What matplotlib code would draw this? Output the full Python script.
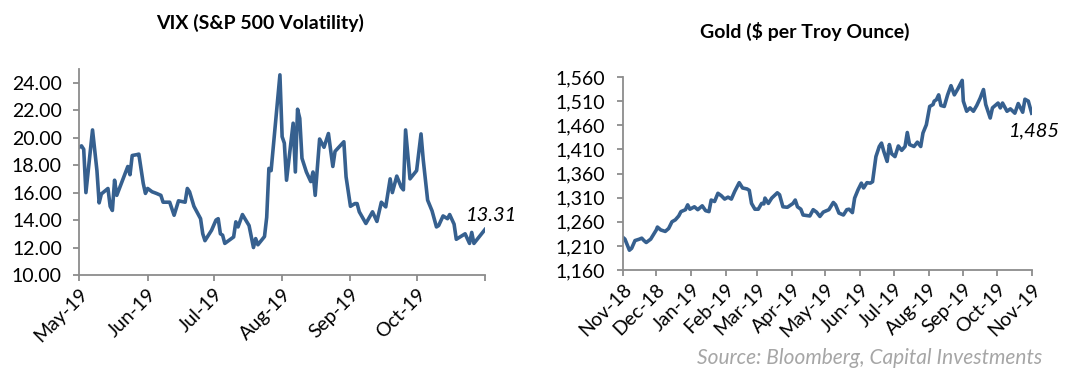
import numpy as np
import pandas as pd
import matplotlib
matplotlib.use("Agg")
import matplotlib.pyplot as plt
import matplotlib.dates as mdates
from matplotlib.ticker import FuncFormatter

plt.rcParams['font.family'] = ['Lato', 'DejaVu Sans']

# VIX close, May - Oct 2019
vix_dates = [
    "2019-05-01", "2019-05-02", "2019-05-03", "2019-05-04", "2019-05-07", "2019-05-09",
    "2019-05-10", "2019-05-11", "2019-05-14", "2019-05-15", "2019-05-16", "2019-05-17",
    "2019-05-18", "2019-05-23", "2019-05-24", "2019-05-25", "2019-05-27", "2019-05-28",
    "2019-05-30", "2019-05-31", "2019-06-01", "2019-06-03", "2019-06-05", "2019-06-07",
    "2019-06-08", "2019-06-11", "2019-06-13", "2019-06-15", "2019-06-18", "2019-06-19",
    "2019-06-20", "2019-06-22", "2019-06-25", "2019-06-26", "2019-06-27", "2019-06-30",
    "2019-07-02", "2019-07-03", "2019-07-04", "2019-07-05", "2019-07-06", "2019-07-10",
    "2019-07-11", "2019-07-12", "2019-07-14", "2019-07-17", "2019-07-19", "2019-07-20",
    "2019-07-21", "2019-07-24", "2019-07-25", "2019-07-26", "2019-07-27", "2019-07-31",
    "2019-08-01", "2019-08-02", "2019-08-03", "2019-08-06", "2019-08-07", "2019-08-08",
    "2019-08-09", "2019-08-10", "2019-08-12", "2019-08-14", "2019-08-15", "2019-08-16",
    "2019-08-18", "2019-08-20", "2019-08-22", "2019-08-24", "2019-08-25", "2019-08-29",
    "2019-08-30", "2019-09-01", "2019-09-03", "2019-09-04", "2019-09-05", "2019-09-08",
    "2019-09-11", "2019-09-13", "2019-09-15", "2019-09-17", "2019-09-19", "2019-09-20",
    "2019-09-22", "2019-09-24", "2019-09-25", "2019-09-26", "2019-09-28", "2019-10-01",
    "2019-10-03", "2019-10-04", "2019-10-06", "2019-10-08", "2019-10-10", "2019-10-11",
    "2019-10-13", "2019-10-15", "2019-10-16", "2019-10-18", "2019-10-19", "2019-10-23",
    "2019-10-25", "2019-10-26", "2019-10-27", "2019-11-01",
]
vix_values = [
    19.30, 19.40, 19.15, 16.00, 20.56, 17.60,
    15.25, 15.90, 16.30, 15.00, 14.70, 16.90,
    15.80, 17.90, 17.30, 18.70, 18.76, 18.80,
    16.67, 15.94, 16.30, 16.06, 15.94, 15.80,
    15.30, 15.30, 14.35, 15.40, 15.30, 16.30,
    16.06, 15.00, 14.10, 13.00, 12.50, 13.26,
    14.00, 14.10, 13.00, 12.90, 12.30, 12.77,
    13.87, 13.50, 14.40, 13.60, 12.00, 12.65,
    12.20, 12.80, 14.20, 17.76, 17.60, 24.57,
    20.07, 19.60, 16.90, 21.05, 17.50, 22.07,
    21.40, 18.50, 17.50, 16.80, 17.50, 15.80,
    19.90, 19.30, 20.30, 17.90, 19.00, 19.70,
    17.15, 15.00, 15.20, 15.20, 14.60, 13.75,
    14.60, 13.90, 15.30, 14.96, 17.00, 16.00,
    17.20, 16.40, 16.20, 20.56, 17.00, 17.60,
    20.27, 18.40, 15.45, 14.67, 13.50, 13.60,
    14.30, 14.10, 14.40, 13.70, 12.60, 13.00,
    12.30, 13.10, 12.30, 13.31,
]

# Gold spot, Nov 2018 - Nov 2019
gold_dates = [
    "2018-11-01", "2018-11-03", "2018-11-07", "2018-11-09", "2018-11-12", "2018-11-16",
    "2018-11-18", "2018-11-20", "2018-11-22", "2018-11-26", "2018-12-01", "2018-12-02",
    "2018-12-05", "2018-12-09", "2018-12-12", "2018-12-15", "2018-12-18", "2018-12-21",
    "2018-12-23", "2018-12-27", "2018-12-29", "2018-12-31", "2019-01-04", "2019-01-07",
    "2019-01-11", "2019-01-14", "2019-01-17", "2019-01-19", "2019-01-22", "2019-01-25",
    "2019-01-28", "2019-01-31", "2019-02-03", "2019-02-06", "2019-02-09", "2019-02-13",
    "2019-02-16", "2019-02-20", "2019-02-22", "2019-02-24", "2019-02-27", "2019-03-02",
    "2019-03-05", "2019-03-07", "2019-03-08", "2019-03-11", "2019-03-14", "2019-03-19",
    "2019-03-21", "2019-03-24", "2019-03-28", "2019-04-02", "2019-04-04", "2019-04-06",
    "2019-04-09", "2019-04-11", "2019-04-17", "2019-04-20", "2019-04-23", "2019-04-26",
    "2019-04-29", "2019-05-04", "2019-05-08", "2019-05-10", "2019-05-13", "2019-05-17",
    "2019-05-20", "2019-05-22", "2019-05-25", "2019-05-27", "2019-05-30", "2019-06-02",
    "2019-06-04", "2019-06-07", "2019-06-10", "2019-06-12", "2019-06-15", "2019-06-18",
    "2019-06-20", "2019-06-22", "2019-06-25", "2019-06-27", "2019-06-29", "2019-07-02",
    "2019-07-05", "2019-07-08", "2019-07-11", "2019-07-13", "2019-07-15", "2019-07-19",
    "2019-07-22", "2019-07-25", "2019-07-27", "2019-07-30", "2019-08-02", "2019-08-05",
    "2019-08-06", "2019-08-08", "2019-08-10", "2019-08-12", "2019-08-15", "2019-08-18",
    "2019-08-21", "2019-08-24", "2019-08-27", "2019-08-29", "2019-08-31", "2019-09-01",
    "2019-09-04", "2019-09-07", "2019-09-10", "2019-09-13", "2019-09-16", "2019-09-19",
    "2019-09-21", "2019-09-25", "2019-09-27", "2019-10-02", "2019-10-04", "2019-10-06",
    "2019-10-10", "2019-10-13", "2019-10-17", "2019-10-20", "2019-10-24", "2019-10-26",
    "2019-10-29", "2019-11-01",
]
gold_values = [
    1228, 1224, 1201, 1205, 1221, 1224,
    1226, 1221, 1217, 1224, 1243, 1249,
    1243, 1240, 1246, 1260, 1264, 1272,
    1281, 1285, 1295, 1286, 1291, 1285,
    1293, 1283, 1281, 1305, 1302, 1319,
    1314, 1307, 1311, 1307, 1323, 1341,
    1330, 1328, 1325, 1298, 1286, 1286,
    1298, 1297, 1309, 1298, 1309, 1320,
    1316, 1291, 1290, 1298, 1305, 1291,
    1286, 1274, 1272, 1285, 1280, 1271,
    1280, 1285, 1300, 1295, 1278, 1274,
    1285, 1286, 1279, 1309, 1326, 1340,
    1330, 1341, 1340, 1343, 1395, 1416,
    1423, 1406, 1385, 1420, 1401, 1395,
    1417, 1408, 1416, 1445, 1420, 1416,
    1425, 1416, 1444, 1461, 1499, 1503,
    1510, 1513, 1523, 1501, 1499, 1523,
    1542, 1523, 1535, 1544, 1553, 1510,
    1489, 1496, 1489, 1501, 1516, 1534,
    1503, 1475, 1496, 1506, 1496, 1506,
    1489, 1494, 1485, 1505, 1487, 1514,
    1510, 1485,
]

vix_dates = pd.to_datetime(vix_dates)
gold_dates = pd.to_datetime(gold_dates)

line_color = '#36608f'
axis_color = '#8c8c8c'

fig = plt.figure(figsize=(10.76, 3.76), dpi=100)
ax1 = fig.add_axes([0.0737, 0.2686, 0.377, 0.548])
ax2 = fig.add_axes([0.5787, 0.2819, 0.3801, 0.5133])


def month_label(last_label=True, end=None):
    def fmt(x, pos):
        d = mdates.num2date(x)
        if not last_label and d.date() >= end.date():
            return ''
        return d.strftime('%b-%y')
    return FuncFormatter(fmt)


def style_axis(ax):
    for side in ['top', 'right']:
        ax.spines[side].set_visible(False)
    for side in ['left', 'bottom']:
        ax.spines[side].set_color(axis_color)
        ax.spines[side].set_linewidth(1.3)
    ax.tick_params(axis='both', direction='out', length=4.5, width=1.3,
                   color=axis_color, labelsize=14, labelcolor='black')
    ax.tick_params(axis='y', pad=8)
    ax.tick_params(axis='x', pad=3)
    ax.xaxis.set_major_locator(mdates.MonthLocator())
    for lbl in ax.get_xticklabels():
        lbl.set_rotation(45)
        lbl.set_ha('right')
        lbl.set_rotation_mode('anchor')


# VIX
vix_end = pd.Timestamp("2019-11-01")
ax1.plot(vix_dates, vix_values, color=line_color, linewidth=2.6, solid_joinstyle='round')
ax1.set_xlim(pd.Timestamp("2019-05-01"), vix_end)
ax1.set_ylim(10, 25)
ax1.set_yticks(np.arange(10, 25, 2))
ax1.yaxis.set_major_formatter(FuncFormatter(lambda v, p: f"{v:.2f}"))
ax1.xaxis.set_major_formatter(month_label(False, vix_end))
style_axis(ax1)
ax1.annotate(f"{vix_values[-1]:.2f}", xy=(vix_dates[-1], vix_values[-1]),
             xytext=(-14, 10), textcoords='offset points', fontsize=14.5,
             style='italic', va='center', ha='left')

# Gold
ax2.plot(gold_dates, gold_values, color=line_color, linewidth=2.6, solid_joinstyle='round')
ax2.set_xlim(pd.Timestamp("2018-11-01"), pd.Timestamp("2019-11-01"))
ax2.set_ylim(1160, 1560)
ax2.set_yticks(np.arange(1160, 1561, 50))
ax2.yaxis.set_major_formatter(FuncFormatter(lambda v, p: f"{v:,.0f}"))
ax2.xaxis.set_major_formatter(month_label())
style_axis(ax2)
ax2.annotate(f"{gold_values[-1]:,}", xy=(gold_dates[-1], gold_values[-1]),
             xytext=(-16, -13), textcoords='offset points', fontsize=14.5,
             style='italic', va='center', ha='left')

fig.text(260 / 1076, 1 - 23 / 376, "VIX (S&P 500 Volatility)", fontsize=14,
         fontweight='bold', ha='center', va='center')
fig.text(805 / 1076, 1 - 31 / 376, "Gold ($ per Troy Ounce)", fontsize=14,
         fontweight='bold', ha='center', va='center')
fig.text(1042 / 1076, 1 - 358 / 376, "Source: Bloomberg, Capital Investments",
         fontsize=15, style='italic', color='#a6a6a6', ha='right', va='center')

fig.savefig("out.png", dpi=100)
